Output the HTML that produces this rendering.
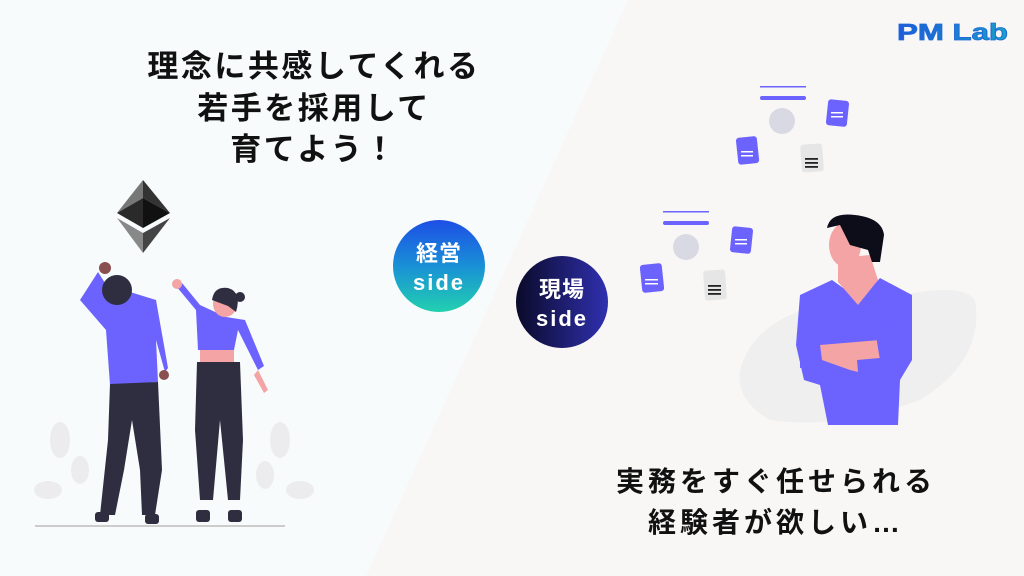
<!DOCTYPE html>
<html><head><meta charset="utf-8"><style>
html,body{margin:0;padding:0;width:1024px;height:576px;overflow:hidden;background:#f7fbfb}
svg{display:block}
text{font-family:"Liberation Sans","Noto Sans CJK JP",sans-serif;font-weight:bold}
</style></head><body>
<svg width="1024" height="576" viewBox="0 0 1024 576" xmlns="http://www.w3.org/2000/svg">
<defs>
<linearGradient id="g1" x1="0" y1="0" x2="0" y2="1"><stop offset="0" stop-color="#1d4ee6"/><stop offset="0.5" stop-color="#1990d6"/><stop offset="1" stop-color="#22d0b0"/></linearGradient>
<linearGradient id="g2" x1="0" y1="0" x2="1" y2="0"><stop offset="0" stop-color="#0a0a2a"/><stop offset="1" stop-color="#3030b0"/></linearGradient>
<linearGradient id="g3" x1="0" y1="0" x2="1" y2="0"><stop offset="0" stop-color="#1e5ad8"/><stop offset="1" stop-color="#1aa0c8"/></linearGradient>
</defs>
<rect width="1024" height="576" fill="#f7fbfb"/>
<polygon points="628,0 1024,0 1024,576 366,576" fill="#f9f7f6"/>
<text x="897" y="40" font-size="23" fill="url(#g3)" font-weight="900" stroke="#1e6ad8" stroke-width="0.8" textLength="111" lengthAdjust="spacingAndGlyphs">PM Lab</text>
<g font-size="31" fill="#111" text-anchor="middle" letter-spacing="2.5">
<text x="314" y="77">理念に共感してくれる</text>
<text x="314" y="119">若手を採用して</text>
<text x="314" y="160">育てよう！</text>
</g>
<g font-size="28" fill="#111" text-anchor="middle" letter-spacing="4">
<text x="776" y="491">実務をすぐ任せられる</text>
<text x="776" y="532">経験者が欲しい…</text>
</g>
<circle cx="439" cy="266" r="46" fill="url(#g1)"/>
<text x="439" y="261" font-size="22" fill="#fff" text-anchor="middle" letter-spacing="1">経営</text>
<text x="439" y="290" font-size="22" fill="#fff" text-anchor="middle" letter-spacing="2">side</text>
<circle cx="562" cy="302" r="46" fill="url(#g2)"/>
<text x="562" y="297" font-size="22" fill="#fff" text-anchor="middle" letter-spacing="1">現場</text>
<text x="562" y="326" font-size="22" fill="#fff" text-anchor="middle" letter-spacing="2">side</text>
<polygon points="143,180 117,213 143,198" fill="#777"/>
<polygon points="143,180 170,213 143,198" fill="#333"/>
<polygon points="117,213 143,198 143,228" fill="#2a2a2a"/>
<polygon points="170,213 143,198 143,228" fill="#111"/>
<polygon points="117,218 143,233 143,253" fill="#888"/>
<polygon points="170,218 143,233 143,253" fill="#444"/>
<g fill="#ececee">
<ellipse cx="60" cy="440" rx="10" ry="18"/><ellipse cx="48" cy="490" rx="14" ry="9"/><ellipse cx="80" cy="470" rx="9" ry="14"/>
<ellipse cx="280" cy="440" rx="10" ry="18"/><ellipse cx="300" cy="490" rx="14" ry="9"/><ellipse cx="265" cy="475" rx="9" ry="14"/>
</g>
<rect x="35" y="525" width="250" height="2" fill="#ccc"/>
<path d="M98,272 L80,300 L106,330 L110,385 L158,382 L156,340 L165,372 L168,368 L156,300 L130,292 L105,283 Z" fill="#6c63ff"/>
<circle cx="105" cy="268" r="6" fill="#8a4f4f"/>
<circle cx="164" cy="375" r="5" fill="#8a4f4f"/>
<circle cx="117" cy="290" r="15" fill="#2f2e41"/>
<path d="M110,384 L158,382 L162,470 L155,515 L142,515 L140,470 L132,420 L124,470 L115,515 L100,515 L108,440 Z" fill="#2f2e41"/>
<rect x="95" y="512" width="14" height="10" rx="3" fill="#2f2e41"/>
<rect x="145" y="514" width="14" height="10" rx="3" fill="#2f2e41"/>
<path d="M176,286 L196,310 L198,350 L234,350 L238,330 L258,370 L264,366 L245,320 L226,317 L200,305 L182,283 Z" fill="#6c63ff"/>
<circle cx="177" cy="284" r="5" fill="#f4a4a4"/>
<rect x="200" y="350" width="34" height="12" fill="#f4a4a4"/>
<path d="M258,370 L268,390 L264,393 L254,375 Z" fill="#f4a4a4"/>
<ellipse cx="225" cy="304" rx="12" ry="13" fill="#f4a4a4"/>
<path d="M212,300 Q214,286 228,288 Q242,292 236,312 L228,306 Z" fill="#2f2e41"/>
<circle cx="240" cy="297" r="5" fill="#2f2e41"/>
<path d="M197,362 L240,362 L243,440 L240,500 L228,500 L220,420 L213,500 L200,500 L195,430 Z" fill="#2f2e41"/>
<rect x="196" y="510" width="14" height="12" rx="3" fill="#2f2e41"/>
<rect x="228" y="510" width="14" height="12" rx="3" fill="#2f2e41"/>
<path d="M740,370 Q760,300 880,300 Q960,280 975,300 Q985,360 920,400 Q840,430 770,420 Q735,400 740,370 Z" fill="#efefef"/>
<path d="M832,280 L800,295 L796,345 L804,380 L820,385 L828,425 L898,425 L900,380 L912,360 L912,295 L880,278 L860,300 Z" fill="#6c63ff"/>
<path d="M838,258 L838,282 L858,305 L878,280 L870,255 Z" fill="#f4a4a4"/>
<ellipse cx="845" cy="245" rx="16" ry="22" fill="#f4a4a4"/>
<path d="M827,228 Q830,212 855,215 Q882,218 884,235 L880,262 L872,262 L868,250 L850,245 L840,225 Z" fill="#0d0d1a"/>
<path d="M820,345 L880,340 L880,358 L857,360 L858,372 L850,370 L822,360 Z" fill="#f4a4a4"/>
<path d="M800,330 L820,345 L822,365 L800,368 Z" fill="#6c63ff"/>
<path d="M875,330 L905,320 L910,360 L880,360 Z" fill="#6c63ff"/>
<rect x="760" y="86" width="46" height="1.5" fill="#6c63ff"/>
<rect x="760" y="96" width="46" height="4" rx="2" fill="#6c63ff"/>
<circle cx="782" cy="121" r="13" fill="#d9d9e3"/>
<rect x="827" y="100" width="21" height="26" rx="3" fill="#6c63ff" transform="rotate(6 837 113)"/>
<rect x="737" y="137" width="21" height="27" rx="3" fill="#6c63ff" transform="rotate(-6 747 150)"/>
<rect x="801" y="144" width="22" height="28" rx="3" fill="#e6e6e6" transform="rotate(-4 812 158)"/>
<g fill="#fff"><rect x="831" y="112" width="12" height="1.5"/><rect x="831" y="116" width="12" height="1.5"/><rect x="741" y="151" width="12" height="1.5"/><rect x="741" y="155" width="12" height="1.5"/></g>
<g fill="#222"><rect x="805" y="158" width="13" height="1.8"/><rect x="805" y="162" width="13" height="1.8"/><rect x="805" y="166" width="13" height="1.8"/></g>
<rect x="663" y="211" width="46" height="1.5" fill="#6c63ff"/>
<rect x="663" y="221" width="46" height="4" rx="2" fill="#6c63ff"/>
<circle cx="686" cy="247" r="13" fill="#d9d9e3"/>
<rect x="731" y="227" width="21" height="26" rx="3" fill="#6c63ff" transform="rotate(6 741 240)"/>
<rect x="641" y="264" width="22" height="28" rx="3" fill="#6c63ff" transform="rotate(-6 652 278)"/>
<rect x="704" y="270" width="22" height="30" rx="3" fill="#e6e6e6" transform="rotate(-4 715 285)"/>
<g fill="#fff"><rect x="735" y="239" width="12" height="1.5"/><rect x="735" y="243" width="12" height="1.5"/><rect x="645" y="279" width="13" height="1.5"/><rect x="645" y="283" width="13" height="1.5"/></g>
<g fill="#222"><rect x="708" y="285" width="13" height="1.8"/><rect x="708" y="289" width="13" height="1.8"/><rect x="708" y="293" width="13" height="1.8"/></g>
</svg>
</body></html>
